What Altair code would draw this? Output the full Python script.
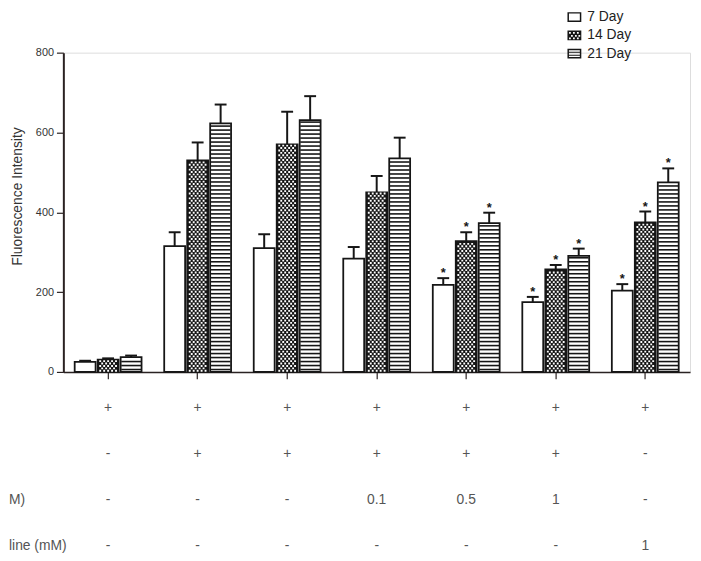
import altair as alt
import pandas as pd
import numpy as np

# ---------------- data ----------------
groups = ["1", "2", "3", "4", "5", "6", "7"]
days = ["7 Day", "14 Day", "21 Day"]
mean_7 = [25, 315, 310, 284, 218, 175, 204]
sem_7 = [3, 35, 35, 29, 17, 13, 16]
mean_14 = [31, 530, 570, 450, 328, 257, 375]
sem_14 = [3, 45, 82, 41, 22, 11, 27]
mean_21 = [37, 623, 631, 535, 373, 291, 475]
sem_21 = [4, 47, 60, 52, 26, 18, 35]
significant = [False, False, False, False, True, True, True]

row_ids = ["r1", "r2", "r3", "r4"]
row1 = ["+", "+", "+", "+", "+", "+", "+"]
row2 = ["-", "+", "+", "+", "+", "+", "-"]
row3 = ["-", "-", "-", "0.1", "0.5", "1", "-"]
row4 = ["-", "-", "-", "-", "-", "-", "1"]
row3_label = "M)"
row4_label = "line (mM)"
y_ticks = [0, 200, 400, 600, 800]

# ---------------- tables ----------------
recs = []
for means, sems, d in [(mean_7, sem_7, days[0]), (mean_14, sem_14, days[1]), (mean_21, sem_21, days[2])]:
    for g, m, s, sig in zip(groups, means, sems, significant):
        recs.append({"group": g, "day": d, "mean": m, "top": m + s, "sig": sig})
bars = pd.DataFrame(recs)

# pattern rows derived from the bar values (decoration only)
dotA, dotB, stripes = [], [], []
for g, m in zip(groups, mean_14):
    for k, yy in enumerate(np.arange(3, m - 2, 6)):
        (dotA if k % 2 == 0 else dotB).append({"group": g, "day": days[1], "y": float(yy)})
for g, m in zip(groups, mean_21):
    for yy in np.arange(6, m - 3, 10):
        stripes.append({"group": g, "day": days[2], "y": float(yy)})
dotA = pd.DataFrame(dotA)
dotB = pd.DataFrame(dotB)
stripes = pd.DataFrame(stripes)

trecs = []
for rid, vals in zip(row_ids, [row1, row2, row3, row4]):
    for g, v in zip(groups, vals):
        trecs.append({"group": g, "row": rid, "txt": v})
table = pd.DataFrame(trecs)
labels3 = pd.DataFrame([{"row": "r3", "txt": row3_label}])
labels4 = pd.DataFrame([{"row": "r4", "txt": row4_label}])
legend_df = pd.DataFrame({"series": days})


# ---------------- shape paths ----------------
def rect(x0, y0, x1, y1, cw=True, s=1.0):
    x0, y0, x1, y1 = x0 / s, y0 / s, x1 / s, y1 / s
    if cw:
        return f"M{x0:.3f},{y0:.3f}H{x1:.3f}V{y1:.3f}H{x0:.3f}Z"
    return f"M{x0:.3f},{y0:.3f}V{y1:.3f}H{x1:.3f}V{y0:.3f}Z"


dot_a_path = " ".join(rect(c - 0.95, -0.95, c + 0.95, 0.95) for c in [-8, -4, 0, 4, 8])
dot_b_path = " ".join(rect(c - 0.95, -0.95, c + 0.95, 0.95) for c in [-6, -2, 2, 6])
stripe_path = rect(-10, -0.8, 10, 0.8)
cap_path = rect(-6, -1, 6, 1)

# legend swatches (px units, drawn with size=4 -> scale 1)
leg7 = rect(-7, -5, 7, 5, True) + " " + rect(-5.5, -3.5, 5.5, 3.5, False)
holes = []
for cy, cxs in [(-2.5, [-4.5, -0.5, 3.5]), (0.5, [-2.5, 1.5, 5]), (3.0, [-4.5, -0.5, 3.5])]:
    for cx in cxs:
        holes.append(rect(cx - 0.9, cy - 0.9, cx + 0.9, cy + 0.9, False))
leg14 = rect(-7, -5, 7, 5, True) + " " + " ".join(holes)
leg21 = (rect(-7, -5, 7, 5, True) + " " + rect(-5.5, -3.5, 5.5, 3.5, False) + " "
         + rect(-5.5, -2.0, 5.5, -1.0, True) + " " + rect(-5.5, 1.0, 5.5, 2.0, True))

INK = "#161616"
AX = "#2a2222"
FONT = "Liberation Sans"

# ---------------- encodings ----------------
x_enc = alt.X("group:N", sort=groups,
              scale=alt.Scale(domain=groups, paddingInner=0.23, paddingOuter=0.115),
              axis=alt.Axis(title=None, labels=False, ticks=True, tickSize=7, tickWidth=1.2,
                            tickColor=AX, domainColor=AX, domainWidth=1.5, grid=False))
xo_enc = alt.XOffset("day:N", sort=days,
                     scale=alt.Scale(domain=days, paddingInner=0.09, paddingOuter=0.045))
yscale = alt.Scale(domain=[0, 800], nice=False)

bar_layer = alt.Chart(bars).mark_bar(stroke=INK, strokeWidth=1.8).encode(
    x=x_enc, xOffset=xo_enc,
    y=alt.Y("mean:Q", scale=yscale,
            axis=alt.Axis(values=y_ticks, title="Fluorescence Intensity", grid=False,
                          tickSize=7, tickWidth=1.2, tickColor=AX, domainColor=AX, domainWidth=2,
                          labelFont=FONT, labelFontSize=11, labelColor="#333", labelPadding=3,
                          titleFont=FONT, titleFontSize=14, titleFontWeight="normal", titleColor="#333",
                          titleX=-39, titleY=145)),
    fill=alt.Fill("day:N", sort=days, scale=alt.Scale(domain=days, range=["white", INK, "white"]), legend=None),
)

dots_a = alt.Chart(dotA).mark_point(shape=dot_a_path, size=4, filled=True, color="white", opacity=1, strokeWidth=0).encode(
    x=x_enc, xOffset=xo_enc, y=alt.Y("y:Q", scale=yscale))
dots_b = alt.Chart(dotB).mark_point(shape=dot_b_path, size=4, filled=True, color="white", opacity=1, strokeWidth=0).encode(
    x=x_enc, xOffset=xo_enc, y=alt.Y("y:Q", scale=yscale))
stripe_layer = alt.Chart(stripes).mark_point(shape=stripe_path, size=4, filled=True, color=INK, opacity=1, strokeWidth=0).encode(
    x=x_enc, xOffset=xo_enc, y=alt.Y("y:Q", scale=yscale))

err_rule = alt.Chart(bars).mark_rule(color=INK, strokeWidth=2).encode(
    x=x_enc, xOffset=xo_enc, y=alt.Y("mean:Q", scale=yscale), y2="top:Q")
err_cap = alt.Chart(bars).mark_point(shape=cap_path, size=4, filled=True, color=INK, opacity=1, strokeWidth=0).encode(
    x=x_enc, xOffset=xo_enc, y=alt.Y("top:Q", scale=yscale))
stars = alt.Chart(bars).transform_filter("datum.sig").mark_text(
    text="*", font=FONT, fontSize=13, fontWeight="bold", color=INK, baseline="alphabetic", dy=-1).encode(
    x=x_enc, xOffset=xo_enc, y=alt.Y("top:Q", scale=yscale))

plot = alt.layer(bar_layer, dots_a, dots_b, stripe_layer, err_rule, err_cap, stars)

# table under the plot
row_scale = alt.Scale(type="point", domain=row_ids, range=[360, 499], padding=0)
table_layer = alt.Chart(table).mark_text(font=FONT, fontSize=14, color="#555").encode(
    x=x_enc, y=alt.Y("row:N", scale=row_scale, axis=None), text="txt:N")
lab3 = alt.Chart(labels3).mark_text(font=FONT, fontSize=14, color="#555", align="left").encode(
    x=alt.value(-55), y=alt.Y("row:N", scale=row_scale, axis=None), text="txt:N")
lab4 = alt.Chart(labels4).mark_text(font=FONT, fontSize=14, color="#555", align="left").encode(
    x=alt.value(-55), y=alt.Y("row:N", scale=row_scale, axis=None), text="txt:N")

# legend (top right)
leg_scale = alt.Scale(type="point", domain=days, range=[-36, 1], padding=0)
leg_sym = alt.Chart(legend_df).mark_point(size=4, filled=True, color=INK, opacity=1, strokeWidth=0).encode(
    x=alt.value(517), y=alt.Y("series:N", scale=leg_scale, axis=None),
    shape=alt.Shape("series:N", scale=alt.Scale(domain=days, range=[leg7, leg14, leg21]), legend=None))
leg_txt = alt.Chart(legend_df).mark_text(font=FONT, fontSize=14, color="#222", align="left").encode(
    x=alt.value(530), y=alt.Y("series:N", scale=leg_scale, axis=None), text="series:N")

chart = alt.layer(plot, table_layer, lab3, lab4, leg_sym, leg_txt).resolve_scale(y="independent").properties(
    width=634, height=323,
    padding={"left": 56, "top": 42, "right": 3, "bottom": 180},
    autosize=alt.AutoSizeParams(type="none"),
).configure_view(stroke=None).configure(font=FONT)

chart.save("out.html", embed_options={"renderer": "svg", "actions": False})
